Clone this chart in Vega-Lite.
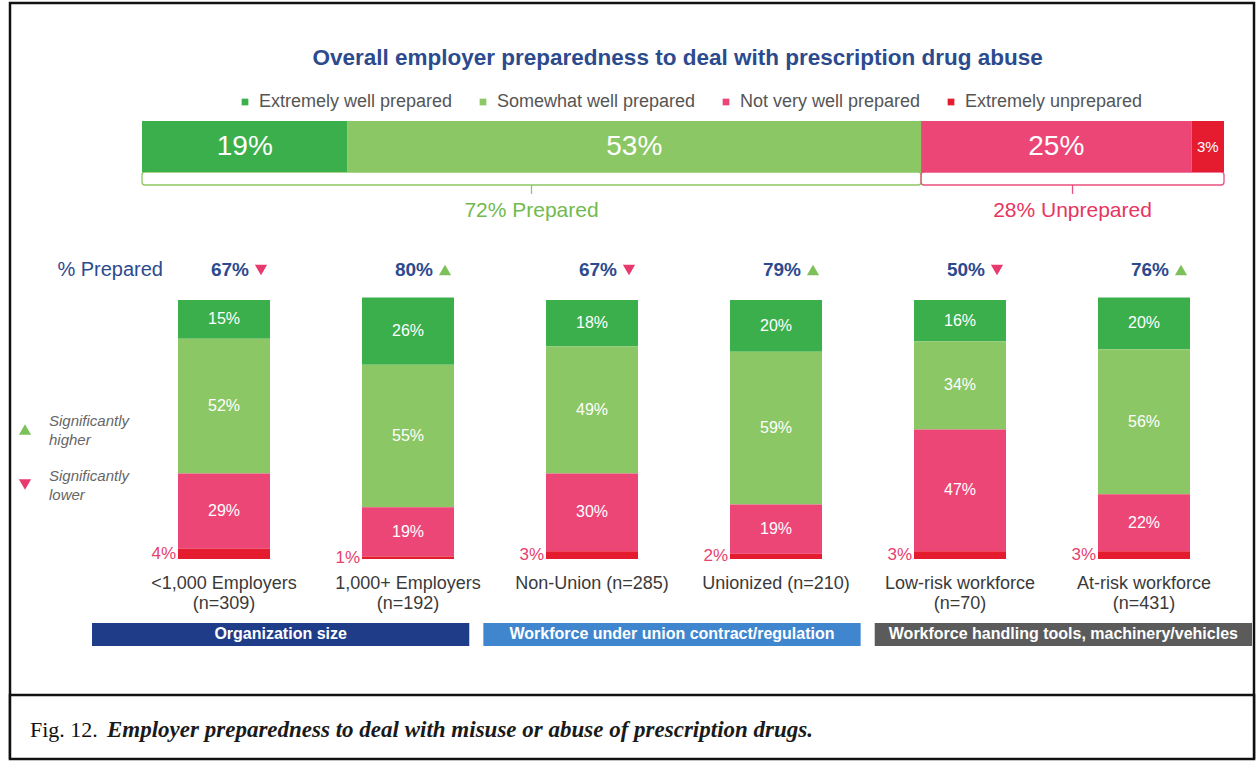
{
  "$schema": "https://vega.github.io/schema/vega-lite/v6.json",
  "width": 1259,
  "height": 761,
  "autosize": {"type": "fit", "contains": "padding"},
  "padding": {"left": 8, "top": 3, "right": 3, "bottom": 3},
  "background": "white",
  "config": {"view": {"stroke": "#111111", "strokeWidth": 2.5}, "font": "Liberation Sans"},
  "datasets": {
    "overall": [
      {"level": "Extremely well prepared", "rank": 1, "side": "Prepared", "share": 0.19},
      {"level": "Somewhat well prepared", "rank": 2, "side": "Prepared", "share": 0.53},
      {"level": "Not very well prepared", "rank": 3, "side": "Unprepared", "share": 0.25},
      {"level": "Extremely unprepared", "rank": 4, "side": "Unprepared", "share": 0.03}
    ],
    "segments": [
      {"group": "<1,000 Employers\n(n=309)", "level": "Extremely well prepared", "rank": 1, "share": 0.15},
      {"group": "<1,000 Employers\n(n=309)", "level": "Somewhat well prepared", "rank": 2, "share": 0.52},
      {"group": "<1,000 Employers\n(n=309)", "level": "Not very well prepared", "rank": 3, "share": 0.29},
      {"group": "<1,000 Employers\n(n=309)", "level": "Extremely unprepared", "rank": 4, "share": 0.04},
      {"group": "1,000+ Employers\n(n=192)", "level": "Extremely well prepared", "rank": 1, "share": 0.26},
      {"group": "1,000+ Employers\n(n=192)", "level": "Somewhat well prepared", "rank": 2, "share": 0.55},
      {"group": "1,000+ Employers\n(n=192)", "level": "Not very well prepared", "rank": 3, "share": 0.19},
      {"group": "1,000+ Employers\n(n=192)", "level": "Extremely unprepared", "rank": 4, "share": 0.01},
      {"group": "Non-Union (n=285)", "level": "Extremely well prepared", "rank": 1, "share": 0.18},
      {"group": "Non-Union (n=285)", "level": "Somewhat well prepared", "rank": 2, "share": 0.49},
      {"group": "Non-Union (n=285)", "level": "Not very well prepared", "rank": 3, "share": 0.30},
      {"group": "Non-Union (n=285)", "level": "Extremely unprepared", "rank": 4, "share": 0.03},
      {"group": "Unionized (n=210)", "level": "Extremely well prepared", "rank": 1, "share": 0.20},
      {"group": "Unionized (n=210)", "level": "Somewhat well prepared", "rank": 2, "share": 0.59},
      {"group": "Unionized (n=210)", "level": "Not very well prepared", "rank": 3, "share": 0.19},
      {"group": "Unionized (n=210)", "level": "Extremely unprepared", "rank": 4, "share": 0.02},
      {"group": "Low-risk workforce\n(n=70)", "level": "Extremely well prepared", "rank": 1, "share": 0.16},
      {"group": "Low-risk workforce\n(n=70)", "level": "Somewhat well prepared", "rank": 2, "share": 0.34},
      {"group": "Low-risk workforce\n(n=70)", "level": "Not very well prepared", "rank": 3, "share": 0.47},
      {"group": "Low-risk workforce\n(n=70)", "level": "Extremely unprepared", "rank": 4, "share": 0.03},
      {"group": "At-risk workforce\n(n=431)", "level": "Extremely well prepared", "rank": 1, "share": 0.20},
      {"group": "At-risk workforce\n(n=431)", "level": "Somewhat well prepared", "rank": 2, "share": 0.56},
      {"group": "At-risk workforce\n(n=431)", "level": "Not very well prepared", "rank": 3, "share": 0.22},
      {"group": "At-risk workforce\n(n=431)", "level": "Extremely unprepared", "rank": 4, "share": 0.03}
    ],
    "groups": [
      {"group": "<1,000 Employers\n(n=309)", "prepared": 0.67, "sig": "Significantly lower"},
      {"group": "1,000+ Employers\n(n=192)", "prepared": 0.80, "sig": "Significantly higher"},
      {"group": "Non-Union (n=285)", "prepared": 0.67, "sig": "Significantly lower"},
      {"group": "Unionized (n=210)", "prepared": 0.79, "sig": "Significantly higher"},
      {"group": "Low-risk workforce\n(n=70)", "prepared": 0.50, "sig": "Significantly lower"},
      {"group": "At-risk workforce\n(n=431)", "prepared": 0.76, "sig": "Significantly higher"}
    ],
    "siglegend": [
      {"sig": "Significantly higher", "label": "Significantly\nhigher"},
      {"sig": "Significantly lower", "label": "Significantly\nlower"}
    ],
    "sections": [
      {"section": "Organization size"},
      {"section": "Workforce under union contract/regulation"},
      {"section": "Workforce handling tools, machinery/vehicles"}
    ],
    "caption": [
      {"part": "caption", "fig": "Fig. 12.", "text": "Employer preparedness to deal with misuse or abuse of  prescription drugs."}
    ]
  },
  "resolve": {"scale": {"x": "independent", "y": "independent"}},
  "layer": [
    {
      "data": {"name": "caption"},
      "layer": [
        {
          "mark": {"type": "rect", "fill": "white", "stroke": "#111111", "strokeWidth": 2.5},
          "encoding": {
            "y": {"field": "part", "type": "nominal", "scale": {"type": "band", "domain": ["caption"], "range": [692, 756], "paddingInner": 0, "paddingOuter": 0}, "axis": null}
          }
        },
        {
          "mark": {"type": "text", "align": "left", "baseline": "middle", "font": "Liberation Serif", "fontSize": 22, "color": "#111111", "dy": 3},
          "encoding": {
            "x": {"field": "part", "type": "nominal", "bandPosition": 0, "scale": {"type": "band", "domain": ["caption"], "range": [20, 1240], "paddingInner": 0, "paddingOuter": 0}, "axis": null},
            "y": {"field": "part", "type": "nominal"},
            "text": {"field": "fig"}
          }
        },
        {
          "mark": {"type": "text", "align": "left", "baseline": "middle", "font": "Liberation Serif", "fontStyle": "italic", "fontWeight": "bold", "fontSize": 23, "color": "#1A1A1A", "dy": 3, "dx": 77},
          "encoding": {
            "x": {"field": "part", "type": "nominal", "bandPosition": 0},
            "y": {"field": "part", "type": "nominal"},
            "text": {"field": "text"}
          }
        }
      ]
    },
    {
      "data": {"values": [{"title": "Overall employer preparedness to deal with prescription drug abuse"}]},
      "mark": {"type": "text", "fontSize": 22.5, "fontWeight": "bold", "color": "#2C4A8E", "baseline": "middle"},
      "encoding": {
        "x": {"datum": 0.495, "type": "quantitative", "scale": {"type": "linear", "domain": [0, 1], "range": [132, 1214], "zero": false, "nice": false}, "axis": null},
        "y": {"datum": 2.235, "type": "quantitative", "scale": {"type": "linear", "domain": [0, 1], "range": [169, 118], "zero": false, "nice": false}, "axis": null},
        "text": {"field": "title"}
      }
    },
    {
      "data": {"name": "overall"},
      "transform": [
        {"stack": "share", "groupby": [], "sort": [{"field": "rank", "order": "ascending"}], "as": ["s0", "s1"]},
        {"aggregate": [{"op": "min", "field": "s0", "as": "start"}, {"op": "max", "field": "s1", "as": "end"}, {"op": "sum", "field": "share", "as": "total"}], "groupby": ["side"]},
        {"calculate": "(datum.start + datum.end) / 2", "as": "mid"},
        {"calculate": "format(datum.total, '.0%') + ' ' + datum.side", "as": "note"}
      ],
      "layer": [
        {
          "mark": {"type": "rect", "fillOpacity": 0, "strokeWidth": 1.3, "cornerRadius": 3},
          "encoding": {
            "x": {"field": "start", "type": "quantitative", "scale": {"type": "linear", "domain": [0, 1], "range": [132, 1214], "zero": false, "nice": false}, "axis": null},
            "x2": {"field": "end"},
            "y": {"datum": 0, "type": "quantitative", "scale": {"type": "linear", "domain": [0, 1], "range": [169, 118], "zero": false, "nice": false}, "axis": null},
            "y2": {"datum": -0.255},
            "stroke": {"condition": {"test": "datum.side === 'Prepared'", "value": "#8DC663"}, "value": "#E9507E"}
          }
        },
        {
          "mark": {"type": "rule", "strokeWidth": 1.3},
          "encoding": {
            "x": {"field": "mid", "type": "quantitative"},
            "y": {"datum": -0.255, "type": "quantitative"},
            "y2": {"datum": -0.43},
            "color": {"condition": {"test": "datum.side === 'Prepared'", "value": "#8DC663"}, "value": "#E9507E"}
          }
        },
        {
          "mark": {"type": "text", "fontSize": 21, "baseline": "middle"},
          "encoding": {
            "x": {"field": "mid", "type": "quantitative"},
            "y": {"datum": -0.765, "type": "quantitative"},
            "text": {"field": "note"},
            "color": {"condition": {"test": "datum.side === 'Prepared'", "value": "#72BA4E"}, "value": "#E6355F"}
          }
        }
      ]
    },
    {
      "data": {"name": "overall"},
      "transform": [
        {"stack": "share", "groupby": [], "sort": [{"field": "rank", "order": "ascending"}], "as": ["s0", "s1"]},
        {"calculate": "(datum.s0 + datum.s1) / 2", "as": "smid"}
      ],
      "layer": [
        {
          "mark": {"type": "rect"},
          "encoding": {
            "x": {"field": "s0", "type": "quantitative", "scale": {"type": "linear", "domain": [0, 1], "range": [132, 1214], "zero": false, "nice": false}, "axis": null},
            "x2": {"field": "s1"},
            "y": {"datum": 0, "type": "quantitative", "scale": {"type": "linear", "domain": [0, 1], "range": [169, 118], "zero": false, "nice": false}, "axis": null},
            "y2": {"datum": 1},
            "color": {
              "field": "level", "type": "nominal",
              "scale": {"domain": ["Extremely well prepared", "Somewhat well prepared", "Not very well prepared", "Extremely unprepared"], "range": ["#3BAF4B", "#8CC765", "#EC4677", "#E51B2F"]},
              "legend": {"orient": "none", "legendX": 226, "legendY": 90, "direction": "horizontal", "title": null, "symbolType": "square", "symbolSize": 45, "symbolStrokeWidth": 0, "labelFontSize": 18, "labelColor": "#555555", "labelFont": "Liberation Sans", "columnPadding": 21, "labelOffset": 5, "labelLimit": 400}
            }
          }
        },
        {
          "mark": {"type": "text", "color": "white", "baseline": "middle"},
          "encoding": {
            "x": {"field": "smid", "type": "quantitative"},
            "y": {"datum": 0.5, "type": "quantitative"},
            "text": {"field": "share", "type": "quantitative", "format": ".0%"},
            "size": {"condition": {"test": "datum.share < 0.1", "value": 15}, "value": 28}
          }
        }
      ]
    },
    {
      "data": {"name": "segments"},
      "transform": [
        {"stack": "share", "groupby": ["group"], "sort": [{"field": "rank", "order": "descending"}], "as": ["y0", "y1"]},
        {"calculate": "(datum.y0 + datum.y1) / 2", "as": "ymid"}
      ],
      "layer": [
        {
          "mark": {"type": "bar"},
          "encoding": {
            "x": {"field": "group", "type": "nominal", "scale": {"type": "band", "domain": ["<1,000 Employers\n(n=309)", "1,000+ Employers\n(n=192)", "Non-Union (n=285)", "Unionized (n=210)", "Low-risk workforce\n(n=70)", "At-risk workforce\n(n=431)"], "range": [122, 1226], "paddingInner": 0.5, "paddingOuter": 0.25}, "axis": null},
            "y": {"field": "y0", "type": "quantitative", "scale": {"type": "linear", "domain": [0, 1], "range": [556, 297], "zero": false, "nice": false}, "axis": null},
            "y2": {"field": "y1"},
            "color": {
              "field": "level", "type": "nominal",
              "scale": {"domain": ["Extremely well prepared", "Somewhat well prepared", "Not very well prepared", "Extremely unprepared"], "range": ["#3BAF4B", "#8CC765", "#EC4677", "#E51B2F"]},
              "legend": {"orient": "none", "legendX": 226, "legendY": 90, "direction": "horizontal", "title": null, "symbolType": "square", "symbolSize": 45, "symbolStrokeWidth": 0, "labelFontSize": 18, "labelColor": "#555555", "labelFont": "Liberation Sans", "columnPadding": 21, "labelOffset": 5, "labelLimit": 400}
            }
          }
        },
        {
          "transform": [{"filter": "datum.rank < 4"}],
          "mark": {"type": "text", "color": "white", "fontSize": 16, "baseline": "middle"},
          "encoding": {
            "x": {"field": "group", "type": "nominal"},
            "y": {"field": "ymid", "type": "quantitative"},
            "text": {"field": "share", "type": "quantitative", "format": ".0%"}
          }
        },
        {
          "transform": [{"filter": "datum.rank === 4"}],
          "mark": {"type": "text", "color": "#E5416F", "fontSize": 17, "align": "right", "baseline": "middle", "dx": -2},
          "encoding": {
            "x": {"field": "group", "type": "nominal", "bandPosition": 0},
            "y": {"field": "ymid", "type": "quantitative"},
            "text": {"field": "share", "type": "quantitative", "format": ".0%"}
          }
        }
      ]
    },
    {
      "data": {"name": "groups"},
      "layer": [
        {
          "mark": {"type": "text", "fontSize": 18, "color": "#3A3A3A", "baseline": "top", "lineBreak": "\n", "lineHeight": 20, "dy": 16},
          "encoding": {
            "x": {"field": "group", "type": "nominal", "scale": {"type": "band", "domain": ["<1,000 Employers\n(n=309)", "1,000+ Employers\n(n=192)", "Non-Union (n=285)", "Unionized (n=210)", "Low-risk workforce\n(n=70)", "At-risk workforce\n(n=431)"], "range": [122, 1226], "paddingInner": 0.5, "paddingOuter": 0.25}, "axis": null},
            "y": {"datum": 0, "type": "quantitative", "scale": {"type": "linear", "domain": [0, 1], "range": [556, 297], "zero": false, "nice": false}, "axis": null},
            "text": {"field": "group"}
          }
        },
        {
          "mark": {"type": "text", "fontSize": 19, "fontWeight": "bold", "color": "#2C4A8E", "align": "right", "baseline": "middle", "dx": 25},
          "encoding": {
            "x": {"field": "group", "type": "nominal"},
            "y": {"datum": 1.116, "type": "quantitative"},
            "text": {"field": "prepared", "type": "quantitative", "format": ".0%"}
          }
        },
        {
          "mark": {"type": "point", "filled": true, "size": 150, "opacity": 1, "xOffset": 37, "strokeWidth": 0},
          "encoding": {
            "x": {"field": "group", "type": "nominal"},
            "y": {"datum": 1.116, "type": "quantitative"},
            "shape": {"field": "sig", "type": "nominal", "scale": {"domain": ["Significantly higher", "Significantly lower"], "range": ["triangle-up", "triangle-down"]}, "legend": null},
            "fill": {"field": "sig", "type": "nominal", "scale": {"domain": ["Significantly higher", "Significantly lower"], "range": ["#7CC05A", "#E8396E"]}, "legend": null}
          }
        }
      ]
    },
    {
      "data": {"name": "siglegend"},
      "layer": [
        {
          "mark": {"type": "point", "filled": true, "size": 150, "opacity": 1, "strokeWidth": 0},
          "encoding": {
            "x": {"datum": 0, "type": "quantitative", "scale": {"type": "linear", "domain": [0, 1], "range": [15, 39], "zero": false, "nice": false}, "axis": null},
            "y": {"field": "sig", "type": "nominal", "scale": {"type": "band", "domain": ["Significantly higher", "Significantly lower"], "range": [399, 509], "paddingInner": 0, "paddingOuter": 0}, "axis": null},
            "shape": {"field": "sig", "type": "nominal", "legend": null},
            "fill": {"field": "sig", "type": "nominal", "legend": null}
          }
        },
        {
          "mark": {"type": "text", "align": "left", "baseline": "top", "lineBreak": "\n", "lineHeight": 19, "fontSize": 15, "fontStyle": "italic", "color": "#666666", "dy": -16},
          "encoding": {
            "x": {"datum": 1, "type": "quantitative"},
            "y": {"field": "sig", "type": "nominal"},
            "text": {"field": "label"}
          }
        }
      ]
    },
    {
      "data": {"values": [{"label": "% Prepared"}]},
      "mark": {"type": "text", "fontSize": 20, "color": "#2C4A8E", "align": "right", "baseline": "middle", "dx": -15},
      "encoding": {
        "x": {"datum": "<1,000 Employers\n(n=309)", "type": "nominal", "bandPosition": 0, "scale": {"type": "band", "domain": ["<1,000 Employers\n(n=309)", "1,000+ Employers\n(n=192)", "Non-Union (n=285)", "Unionized (n=210)", "Low-risk workforce\n(n=70)", "At-risk workforce\n(n=431)"], "range": [122, 1226], "paddingInner": 0.5, "paddingOuter": 0.25}, "axis": null},
        "y": {"datum": 1.116, "type": "quantitative", "scale": {"type": "linear", "domain": [0, 1], "range": [556, 297], "zero": false, "nice": false}, "axis": null},
        "text": {"field": "label"}
      }
    },
    {
      "data": {"name": "sections"},
      "layer": [
        {
          "mark": {"type": "rect"},
          "encoding": {
            "x": {"field": "section", "type": "nominal", "scale": {"type": "band", "domain": ["Organization size", "Workforce under union contract/regulation", "Workforce handling tools, machinery/vehicles"], "range": [82, 1242], "paddingInner": 0.036, "paddingOuter": 0}, "axis": null},
            "y": {"datum": -0.247, "type": "quantitative", "scale": {"type": "linear", "domain": [0, 1], "range": [556, 297], "zero": false, "nice": false}, "axis": null},
            "y2": {"datum": -0.336},
            "fill": {"condition": [{"test": "datum.section === 'Organization size'", "value": "#1F3C88"}, {"test": "datum.section === 'Workforce under union contract/regulation'", "value": "#3F86CF"}], "value": "#5B5B5B"}
          }
        },
        {
          "mark": {"type": "text", "color": "white", "fontWeight": "bold", "fontSize": 16, "baseline": "middle"},
          "encoding": {
            "x": {"field": "section", "type": "nominal"},
            "y": {"datum": -0.2915, "type": "quantitative"},
            "text": {"field": "section"}
          }
        }
      ]
    }
  ]
}
